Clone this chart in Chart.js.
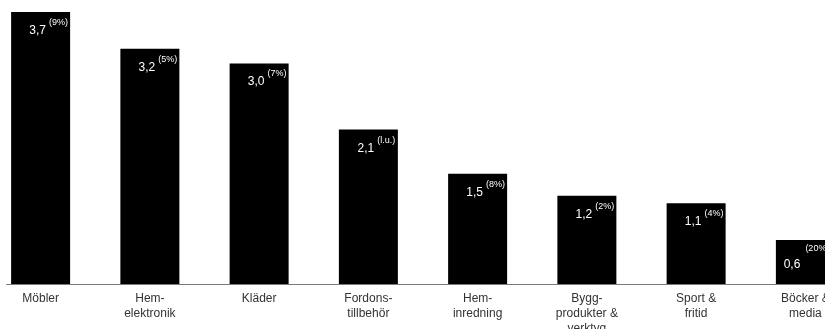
<!DOCTYPE html>
<html>
<head>
<meta charset="utf-8">
<script src="https://cdn.jsdelivr.net/npm/chart.js@4/dist/chart.umd.min.js"></script>
<style>
  html, body { margin: 0; padding: 0; background: #fff; overflow: hidden; width: 825px; height: 329px; }
  #wrap { position: absolute; left: -15px; top: 0; width: 880px; height: 343px; }
</style>
</head>
<body>
<div id="wrap"><canvas id="c"></canvas></div>
<script>
const categories = [
  ["Möbler"],
  ["Hem-", "elektronik"],
  ["Kläder"],
  ["Fordons-", "tillbehör"],
  ["Hem-", "inredning"],
  ["Bygg-", "produkter &", "verktyg"],
  ["Sport &", "fritid"],
  ["Böcker &", "media"]
];
const values = [3.7, 3.2, 3.0, 2.1, 1.5, 1.2, 1.1, 0.6];
const valueLabels = ["3,7", "3,2", "3,0", "2,1", "1,5", "1,2", "1,1", "0,6"];
const changeLabels = ["(9%)", "(5%)", "(7%)", "(l.u.)", "(8%)", "(2%)", "(4%)", "(20%)"];

const FONT = "'Liberation Sans', Arial, sans-serif";

const barLabels = {
  id: 'barLabels',
  afterDatasetsDraw(chart) {
    const ctx = chart.ctx;
    const meta = chart.getDatasetMeta(0);
    const canvasLeftOnPage = -15;
    const pageRight = 825;
    ctx.save();
    ctx.textBaseline = 'alphabetic';
    meta.data.forEach((bar, i) => {
      const cx = bar.x, top = bar.y;
      ctx.font = '12px ' + FONT;
      const w1 = ctx.measureText(valueLabels[i]).width;
      ctx.font = '9px ' + FONT;
      const w2 = ctx.measureText(changeLabels[i]).width;
      const gap = 3;
      const total = w1 + gap + w2;
      let start = cx + 8 - total / 2;
      if (start + total + canvasLeftOnPage > pageRight) {
        ctx.fillStyle = '#ffffff';
        ctx.font = '9px ' + FONT;
        ctx.textAlign = 'left';
        ctx.fillText(changeLabels[i], cx, top + 11);
        ctx.font = '12px ' + FONT;
        ctx.textAlign = 'right';
        ctx.fillText(valueLabels[i], cx - 5, top + 28);
      } else {
        ctx.fillStyle = '#ffffff';
        ctx.font = '12px ' + FONT;
        ctx.textAlign = 'left';
        ctx.fillText(valueLabels[i], start, top + 22);
        ctx.font = '9px ' + FONT;
        ctx.fillText(changeLabels[i], start + w1 + gap, top + 13);
      }
    });
    ctx.restore();
  }
};

const baseline = {
  id: 'baseline',
  afterDatasetsDraw(chart) {
    const ctx = chart.ctx;
    const meta = chart.getDatasetMeta(0);
    const first = meta.data[0];
    const x0 = first.x - first.width / 2 - 5;
    const y = chart.chartArea.bottom + 0.5;
    ctx.save();
    ctx.strokeStyle = '#7a7a7a';
    ctx.lineWidth = 1;
    ctx.beginPath();
    ctx.moveTo(x0, y);
    ctx.lineTo(chart.chartArea.right, y);
    ctx.stroke();
    ctx.restore();
  }
};

new Chart(document.getElementById('c'), {
  type: 'bar',
  data: {
    labels: categories,
    datasets: [{
      data: values,
      backgroundColor: '#000000',
      borderWidth: 0,
      categoryPercentage: 1,
      barPercentage: 0.54
    }]
  },
  options: {
    responsive: true,
    maintainAspectRatio: false,
    animation: false,
    layout: { padding: { top: 12, left: 1, right: 5, bottom: 0 } },
    plugins: { legend: { display: false }, tooltip: { enabled: false } },
    scales: {
      x: {
        grid: { display: false, drawTicks: false },
        border: { display: false },
        ticks: {
          color: '#333333',
          font: { family: FONT, size: 12, lineHeight: 1.25 },
          padding: 7,
          maxRotation: 0,
          autoSkip: false
        }
      },
      y: {
        display: false,
        min: 0,
        max: 3.7
      }
    }
  },
  plugins: [baseline, barLabels]
});
</script>
</body>
</html>
